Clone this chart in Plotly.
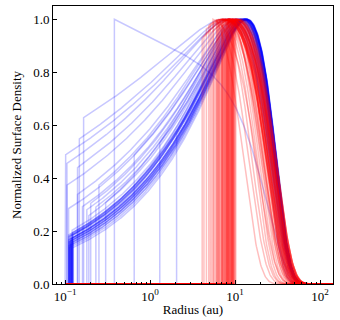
import numpy as np
import plotly.graph_objects as go

# ─── Disk profiles ────────────────────────────────────────────────────────────
# profile: Sigma(r) ~ (r/rc)^slope * exp(-(r/rc)^(2+slope)), zero inside r_in,
# each curve normalised to its own maximum

# blue population (extended disks)
blue_r_in = [0.110, 0.112, 0.115, 0.118, 0.120, 0.122, 0.110, 0.113, 0.116, 0.119,
             0.121, 0.124, 0.111, 0.114, 0.117, 0.120, 0.123, 0.125, 0.110, 0.115,
             0.118, 0.121, 0.112, 0.117, 0.122,
             0.100, 0.105, 0.147, 0.165, 0.380, 0.110, 0.140, 0.160, 0.180, 0.200,
             0.230, 0.250, 0.300, 0.650, 1.300, 0.140, 0.105, 0.190, 2.050]
blue_slope = [0.41, 0.42, 0.40, 0.44, 0.41, 0.40, 0.39, 0.45, 0.43, 0.41,
              0.38, 0.42, 0.44, 0.40, 0.42, 0.46, 0.39, 0.43, 0.41, 0.41,
              0.39, 0.42, 0.42, 0.43, 0.40,
              0.18, 0.24, 0.17, 0.14, -0.07, 0.30, 0.28, 0.32, 0.34, 0.33,
              0.35, 0.30, 0.36, 0.30, 0.35, 0.22, 0.20, 0.38, 0.40]
blue_rc = [27.5, 28.0, 27.0, 27.5, 27.5, 26.5, 27.0, 27.5, 27.5, 28.0,
           26.5, 27.0, 27.5, 26.0, 27.5, 27.5, 26.5, 27.5, 23.0, 27.5,
           27.0, 24.0, 27.5, 27.5, 27.0,
           27.0, 27.0, 26.0, 26.0, 25.0, 27.0, 26.0, 27.0, 26.5, 26.0,
           27.0, 25.0, 27.0, 26.5, 27.0, 26.0, 25.0, 22.0, 27.0]

# red population (disks with large inner cavities)
red_r_in = [4.1, 4.3, 4.6, 4.9, 5.1, 5.3, 5.5, 5.8, 6.0, 6.1,
            6.3, 6.5, 6.6, 6.8, 7.0, 7.1, 7.2, 7.4, 7.5, 7.6,
            7.8, 7.9, 8.0, 8.1, 8.2, 8.4, 8.5, 8.6, 8.7, 8.8,
            8.9, 9.0, 9.1, 9.2, 9.3, 9.4, 9.5, 9.6, 9.8, 10.0,
            10.2, 6.4, 7.3, 8.3, 5.6, 6.9, 7.7, 8.15, 8.45, 9.05,
            9.35, 9.7, 6.2, 7.05, 7.95]
red_slope = [0.20, 0.25, 0.15, 0.30, 0.18, 0.22, 0.12, 0.28, 0.20, 0.16,
             0.24, 0.19, 0.26, 0.14, 0.22, 0.30, 0.18, 0.21, 0.25, 0.15,
             0.20, 0.27, 0.17, 0.23, 0.19, 0.24, 0.16, 0.21, 0.28, 0.18,
             0.22, 0.20, 0.25, 0.15, 0.23, 0.19, 0.26, 0.17, 0.21, 0.24,
             0.20, 0.18, 0.22, 0.25, 0.16, 0.21, 0.19, 0.24, 0.18, 0.22,
             0.20, 0.26, 0.17, 0.23, 0.20]
red_rc = [25, 21, 28, 16, 23, 26, 18, 29, 12, 24,
          22, 27, 19, 25, 29, 17, 23, 26, 28, 21,
          24, 27, 15, 29, 25, 22, 28, 23, 20, 26,
          27, 24, 29, 20, 25, 28, 23, 26, 18, 27,
          29, 14, 24, 22, 25, 26, 21, 27, 24, 28,
          22, 26, 23, 25, 27]

radius = np.logspace(-1, 2.2, 500)


def profile(r_in, slope, rc):
    r = np.sort(np.append(radius, [r_in, r_in]))
    sig = (r / rc) ** slope * np.exp(-(r / rc) ** (2 + slope))
    sig[r < r_in] = 0.0
    first = np.searchsorted(r, r_in)
    sig[first] = 0.0  # foot of the vertical edge
    sig = sig / sig.max()
    return r, sig


fig = go.Figure()
for r_in, s, rc in zip(blue_r_in, blue_slope, blue_rc):
    x, y = profile(r_in, s, rc)
    fig.add_trace(go.Scatter(x=x, y=y, mode="lines", showlegend=False, hoverinfo="skip",
                             line=dict(color="rgba(0,0,255,0.22)", width=1.5)))
for r_in, s, rc in zip(red_r_in, red_slope, red_rc):
    x, y = profile(r_in, s, rc)
    fig.add_trace(go.Scatter(x=x, y=y, mode="lines", showlegend=False, hoverinfo="skip",
                             line=dict(color="rgba(255,0,0,0.25)", width=1.5)))

minor_vals = [m * 10.0 ** e for e in range(-2, 3) for m in range(2, 10)]
serif = "Liberation Serif, Times New Roman, DejaVu Serif, serif"
axis_style = dict(showline=True, linecolor="black", linewidth=1, mirror=True,
                  ticks="inside", tickcolor="black", showgrid=False, zeroline=False,
                  automargin=False, tickfont=dict(family=serif, size=13))

fig.update_layout(
    width=340, height=320,
    margin=dict(l=53, r=7, t=6, b=36),
    plot_bgcolor="white", paper_bgcolor="white",
    font=dict(family=serif, size=13, color="black"),
    xaxis=dict(type="log", range=[np.log10(0.072), np.log10(142)],
               tickvals=[0.1, 1, 10, 100],
               ticktext=["10<sup>\u22121</sup>", "10<sup>0</sup>",
                         "10<sup>1</sup>", "10<sup>2</sup>"],
               ticklen=4,
               minor=dict(ticks="inside", ticklen=2, tickcolor="black",
                          tickvals=minor_vals),
               title=dict(text="Radius (au)", standoff=2,
                          font=dict(family=serif, size=13)),
               **axis_style),
    yaxis=dict(range=[0, 1.05], tickvals=[0, 0.2, 0.4, 0.6, 0.8, 1.0],
               tickformat=".1f", ticklen=4,
               title=dict(text="Normalized Surface Density", standoff=8,
                          font=dict(family=serif, size=13)),
               **axis_style),
)

fig.write_html("out.html", config={"displayModeBar": False},
               post_script="document.body.style.margin='0';")
